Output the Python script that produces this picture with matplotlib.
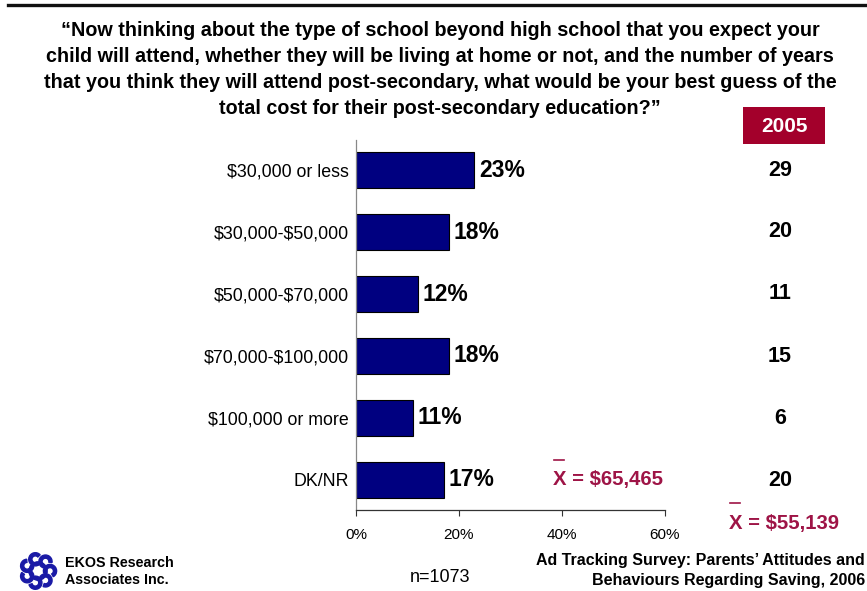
import numpy as np
import matplotlib
matplotlib.use('Agg')
import matplotlib.pyplot as plt
from matplotlib.patches import Rectangle, Circle, Wedge
from matplotlib.lines import Line2D

plt.rcParams['font.family'] = ['Liberation Sans', 'DejaVu Sans']
plt.rcParams['text.parse_math'] = False

categories = ['$30,000 or less', '$30,000-$50,000', '$50,000-$70,000',
              '$70,000-$100,000', '$100,000 or more', 'DK/NR']
pct_2006 = [23, 18, 12, 18, 11, 17]
pct_2005 = [29, 20, 11, 15, 6, 20]
mean_2006 = '$65,465'
mean_2005 = '$55,139'
x_ticks = [0, 20, 40, 60]

title_lines = ['\u201cNow thinking about the type of school beyond high school that you expect your',
               'child will attend, whether they will be living at home or not, and the number of years',
               'that you think they will attend post-secondary, what would be your best guess of the',
               'total cost for their post-secondary education?\u201d']

W, H = 867, 591
red = '#A3002B'
mean_col = '#9E1446'

fig = plt.figure(figsize=(W / 100, H / 100), dpi=100)
fig.patch.set_facecolor('white')


def fx(px):
    return px / W


def fy(py):
    return 1 - py / H


# rule along the top
fig.add_artist(Line2D([fx(8), 1], [fy(5), fy(5)], color='#111111', lw=2.4))

for i, line in enumerate(title_lines):
    fig.text(fx(440), fy(31 + 25.7 * i), line, ha='center', va='center', fontsize=14.2,
             fontweight='bold')

ax = fig.add_axes([fx(356), fy(510), fx(665) - fx(356), fy(140) - fy(510)])
y = np.arange(len(categories))
ax.barh(y, pct_2006, height=0.58, color='#000080', edgecolor='black', linewidth=0.8)
ax.set_xlim(0, 60)
ax.set_ylim(5.484, -0.484)
ax.set_xticks(x_ticks)
ax.set_xticklabels([f'{t}%' for t in x_ticks], fontsize=11)
ax.tick_params(axis='x', length=4, width=0.8, color='#333333', pad=9)
ax.set_yticks(y)
ax.set_yticklabels(categories, fontsize=12.8)
ax.tick_params(axis='y', length=0, pad=5)
for s in ['top', 'right']:
    ax.spines[s].set_visible(False)
ax.spines['left'].set_color('#888888')
ax.spines['bottom'].set_color('#333333')
ax.spines['left'].set_linewidth(0.9)
ax.spines['bottom'].set_linewidth(0.9)
for yi, v in zip(y, pct_2006):
    ax.text(v + 1.0, yi, f'{v}%', va='center', ha='left', fontsize=16.5, fontweight='bold')

# 2005 comparison column
fig.add_artist(Rectangle((fx(743), fy(144)), fx(825) - fx(743), fy(107) - fy(144),
                         facecolor=red, edgecolor='none'))
fig.text(fx(784), fy(126), '2005', ha='center', va='center', color='white',
         fontsize=15, fontweight='bold')
for yi, v in zip(y, pct_2005):
    fig.text(fx(780), fy(170 + 62 * yi), str(v), ha='center', va='center',
             fontsize=15.5, fontweight='bold')


def mean_label(x, y_px, value):
    fig.text(fx(x), fy(y_px), f'X = {value}', ha='left', va='center', color=mean_col,
             fontsize=14.6, fontweight='bold')
    fig.add_artist(Line2D([fx(x + 1), fx(x + 11)], [fy(y_px - 20), fy(y_px - 20)],
                          color=mean_col, lw=1.2))


mean_label(553, 480, mean_2006)
mean_label(729, 523, mean_2005)

fig.text(fx(440), fy(578), 'n=1073', ha='center', va='center', fontsize=13)
fig.text(fx(865), fy(561), 'Ad Tracking Survey: Parents\u2019 Attitudes and', ha='right',
         va='center', fontsize=11.5, fontweight='bold')
fig.text(fx(865), fy(580), 'Behaviours Regarding Saving, 2006', ha='right',
         va='center', fontsize=11.5, fontweight='bold')

# logo: ring of swirls
lx, ly = 38, 571
logo = fig.add_axes([fx(lx - 20), fy(ly + 20), fx(40), fy(0) - fy(40)])
logo.set_xlim(-1, 1)
logo.set_ylim(-1, 1)
logo.set_aspect('equal')
logo.axis('off')
for k in range(7):
    a = 2 * np.pi * k / 7
    cx, cy = 0.6 * np.cos(a), 0.6 * np.sin(a)
    logo.add_patch(Wedge((cx, cy), 0.33, np.degrees(a) - 60, np.degrees(a) + 200,
                         width=0.16, color='#1A1AA6'))
logo.add_patch(Circle((0, 0), 0.42, fill=False, ec='#1A1AA6', lw=2))
fig.text(fx(65), fy(563), 'EKOS Research', ha='left', va='center', fontsize=10.3, fontweight='bold')
fig.text(fx(65), fy(580), 'Associates Inc.', ha='left', va='center', fontsize=10.3, fontweight='bold')

fig.savefig('out.png', dpi=100)
